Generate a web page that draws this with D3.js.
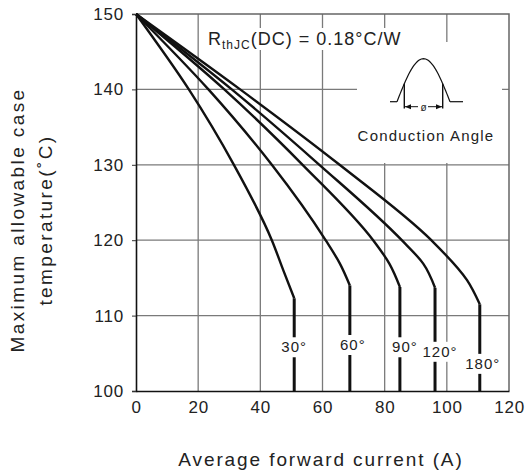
<!DOCTYPE html>
<html><head><meta charset="utf-8">
<script src="https://cdn.jsdelivr.net/npm/d3@7/dist/d3.min.js"></script>
<style>body{margin:0;background:#fff}svg{display:block}text{font-family:"Liberation Sans",Arial,sans-serif;fill:#222}</style>
</head><body><svg id="c" width="526" height="476"></svg>
<script>
// Data (current A, case temperature °C)
const angles = ["30°","60°","90°","120°","180°"];
const curve30  = [[0,150],[17,140],[31.5,130],[43.7,120],[47.4,116],[50.9,112.3]];
const curve60  = [[0,150],[23.3,140],[43.7,130],[61,120],[65.6,116.9],[68.8,114]];
const curve90  = [[0,150],[28.4,140],[53.6,130],[76.3,120],[81.5,116.9],[84.9,113.8]];
const curve120 = [[0,150],[30.8,140],[59,130],[85.5,120],[92.4,116.9],[96.2,113.7]];
const curve180 = [[0,150],[33.5,140],[65.5,130],[95,120],[106.5,114.7],[110.6,111.5]];
const curves = [curve30, curve60, curve90, curve120, curve180];
const labelTemps = [105.8, 106.1, 105.8, 105.2, 103.6];
const labelShift = [0, 3, 5, 5, 3];
const xTicks = [0,20,40,60,80,100,120];
const yTicks = [100,110,120,130,140,150];

const svg = d3.select("#c");
const x = d3.scaleLinear().domain([0,120]).range([136,509]);
const y = d3.scaleLinear().domain([100,150]).range([391,14]);

// grid
const g = svg.append("g");
g.selectAll(".vg").data(xTicks.slice(1,-1)).enter().append("line")
  .attr("x1",d=>x(d)).attr("x2",d=>x(d)).attr("y1",y(150)).attr("y2",y(100))
  .attr("stroke","#7a7a7a").attr("stroke-width",1.3);
g.selectAll(".hg").data(yTicks.slice(1,-1)).enter().append("line")
  .attr("x1",x(0)).attr("x2",x(120)).attr("y1",d=>y(d)).attr("y2",d=>y(d))
  .attr("stroke","#7a7a7a").attr("stroke-width",1.3);
// frame top/right
svg.append("path").attr("d",`M${x(0)},${y(150)}H${x(120)}V${y(100)}`)
  .attr("fill","none").attr("stroke","#666").attr("stroke-width",1.5);

// white boxes for annotations
svg.append("rect").attr("x",205).attr("y",28).attr("width",202).attr("height",22).attr("fill","#fff");
svg.append("rect").attr("x",357).attr("y",42).attr("width",145).attr("height",121).attr("fill","#fff");

// curves
const line = d3.line().x(d=>x(d[0])).y(d=>y(d[1])).curve(d3.curveMonotoneY);
curves.forEach((c,i)=>{
  svg.append("path").attr("d",line(c)).attr("fill","none").attr("stroke","#111").attr("stroke-width",2.4);
  const k = c[c.length-1];
  svg.append("line").attr("x1",x(k[0])).attr("x2",x(k[0])).attr("y1",y(k[1])).attr("y2",y(100))
    .attr("stroke","#111").attr("stroke-width",3);
});
// curve labels
curves.forEach((c,i)=>{
  const k = c[c.length-1];
  const cx = x(k[0]) + labelShift[i], cy = y(labelTemps[i]);
  svg.append("rect").attr("x",cx-16).attr("y",cy-10).attr("width",32).attr("height",20).attr("fill","#fff");
  svg.append("text").attr("x",cx).attr("y",cy+5).attr("text-anchor","middle")
    .style("font-size","15px").style("letter-spacing","1px").text(angles[i]);
});

// axes
const xa = svg.append("g").attr("transform",`translate(0,${y(100)})`)
  .call(d3.axisBottom(x).tickValues(xTicks).tickSize(0).tickPadding(10));
xa.select(".domain").attr("stroke","#111").attr("stroke-width",1.6);
xa.selectAll("text").style("font-size","17px").style("letter-spacing","0.8px").attr("fill","#222")
  .attr("font-family","Liberation Sans, Arial, sans-serif");
const ya = svg.append("g").attr("transform",`translate(${x(0)},0)`)
  .call(d3.axisLeft(y).tickValues(yTicks).tickSize(4).tickPadding(8));
ya.select(".domain").attr("stroke","#111").attr("stroke-width",1.6);
ya.selectAll(".tick line").attr("stroke","#333");
ya.selectAll("text").style("font-size","17px").style("letter-spacing","0.8px").attr("fill","#222")
  .attr("font-family","Liberation Sans, Arial, sans-serif");

// axis titles
svg.append("text").attr("x",321).attr("y",466).attr("text-anchor","middle")
  .style("font-size","19px").style("letter-spacing","1.9px").text("Average forward current (A)");
const yt = svg.append("text").attr("transform","translate(0,220) rotate(-90)").attr("text-anchor","middle")
  .style("font-size","19px").style("letter-spacing","2.4px");
yt.append("tspan").attr("x",0).attr("y",24).text("Maximum allowable case");
yt.append("tspan").attr("x",0).attr("y",52).text("temperature(˚C)");

// Rth annotation
const rt = svg.append("text").attr("x",208).attr("y",45).style("font-size","18px").style("letter-spacing","1px");
rt.append("tspan").text("R");
rt.append("tspan").style("font-size","12px").attr("dy",4).text("thJC");
rt.append("tspan").attr("dy",-4).text("(DC) = 0.18°C/W");

// conduction angle diagram
const x0 = 397, x1 = 450, yb = 101.7, h = 43;
const sinePts = d3.range(0,1.0001,0.02).map(t=>[x0+t*(x1-x0), yb - h*Math.sin(Math.PI*t)]);
svg.append("path").attr("d",d3.line()(sinePts)).attr("fill","none").attr("stroke","#111").attr("stroke-width",1.2);
svg.append("line").attr("x1",390).attr("x2",x0).attr("y1",yb).attr("y2",yb).attr("stroke","#111").attr("stroke-width",1.2);
svg.append("line").attr("x1",x1).attr("x2",463).attr("y1",yb).attr("y2",yb).attr("stroke","#111").attr("stroke-width",1.2);
[404.3,442.7].forEach(vx=>{
  const t=(vx-x0)/(x1-x0); const vy = yb - h*Math.sin(Math.PI*t);
  svg.append("line").attr("x1",vx).attr("x2",vx).attr("y1",vy).attr("y2",108.5).attr("stroke","#111").attr("stroke-width",1.4);
});
svg.append("line").attr("x1",405).attr("x2",418).attr("y1",106.7).attr("y2",106.7).attr("stroke","#111").attr("stroke-width",1);
svg.append("line").attr("x1",428).attr("x2",442).attr("y1",106.7).attr("y2",106.7).attr("stroke","#111").attr("stroke-width",1);
svg.append("path").attr("d","M405,106.7 l6,-2.5 v5 z").attr("fill","#111");
svg.append("path").attr("d","M442,106.7 l-6,-2.5 v5 z").attr("fill","#111");
svg.append("text").attr("x",423.5).attr("y",110.5).attr("text-anchor","middle").style("font-size","10px").text("ø");
svg.append("text").attr("x",426).attr("y",141).attr("text-anchor","middle")
  .style("font-size","15px").style("letter-spacing","1.2px").text("Conduction Angle");
</script></body></html>
